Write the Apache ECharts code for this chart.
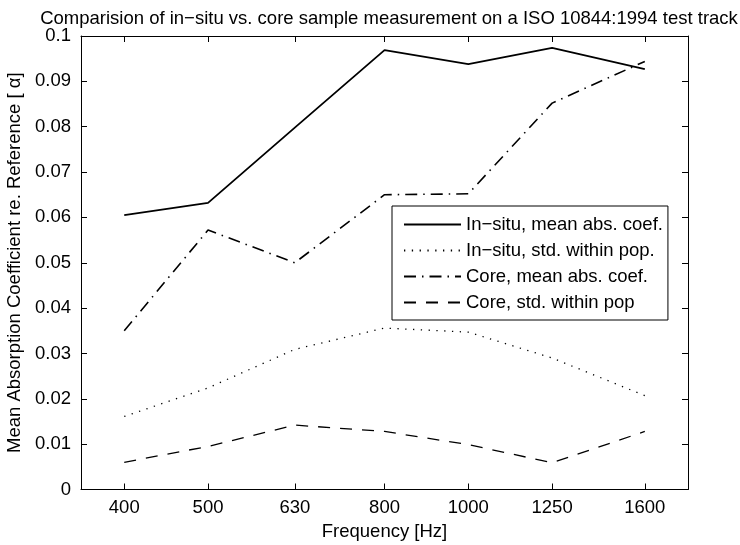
<!DOCTYPE html>
<html>
<head>
<meta charset="utf-8">
<script src="https://cdn.jsdelivr.net/npm/echarts@6/dist/echarts.min.js"></script>
<style>html,body{margin:0;padding:0;background:#fff;}#c{width:740px;height:545px;}</style>
</head>
<body>
<div id="c"></div>
<script>
const frequencies = [400, 500, 630, 800, 1000, 1250, 1600];
const insituMean = [0.0605, 0.0632, 0.0798, 0.0969, 0.0938, 0.0974, 0.0927];
const insituStd  = [0.0161, 0.0224, 0.0309, 0.0356, 0.0347, 0.0290, 0.0207];
const coreMean   = [0.0350, 0.0572, 0.0500, 0.0650, 0.0652, 0.0852, 0.0944];
const coreStd    = [0.0060, 0.0095, 0.0142, 0.0128, 0.0099, 0.0059, 0.0128];
const yTicks = [0, 0.01, 0.02, 0.03, 0.04, 0.05, 0.06, 0.07, 0.08, 0.09, 0.1];

const FONT = '"Liberation Sans", Arial, Helvetica, sans-serif';
const FS = 18.5;
const pairs = arr => frequencies.map((f, i) => [f, arr[i]]);

const chart = echarts.init(document.getElementById('c'), null, {renderer: 'canvas'});
const xBase = {
  type: 'log', logBase: 10, min: 356.5, max: 1795,
  axisLine: {show: true, onZero: false, lineStyle: {color: '#000', width: 1}},
  splitLine: {show: false}, minorTick: {show: false}
};
const yBase = {
  type: 'value', min: 0, max: 0.1, interval: 0.01,
  axisLine: {show: true, onZero: false, lineStyle: {color: '#000', width: 1}},
  splitLine: {show: false}
};
const lineSeries = (name, data, type, width) => ({
  name, type: 'line', data: pairs(data), symbol: 'none', showSymbol: false,
  xAxisIndex: 0, yAxisIndex: 0, animation: false,
  lineStyle: {color: '#000', width: width, type: type, cap: 'butt'},
  itemStyle: {color: '#000'}
});

chart.setOption({
  animation: false,
  backgroundColor: '#fff',
  textStyle: {fontFamily: FONT, color: '#000'},
  title: {
    text: 'Comparision of in\u2212situ vs. core sample measurement on a ISO 10844:1994 test track',
    left: 384, top: 4, textAlign: 'center',
    textStyle: {fontFamily: FONT, fontSize: 18.5, fontWeight: 'normal', color: '#000'}
  },
  grid: {left: 81, right: 52, top: 36, bottom: 55.5, containLabel: false, outerBoundsMode: 'none'},
  legend: {
    orient: 'vertical', left: 392, top: 206,
    padding: [9, 5, 8, 11], itemGap: 7,
    itemWidth: 57, itemHeight: 14,
    backgroundColor: '#fff', borderColor: '#000', borderWidth: 1,
    itemStyle: {opacity: 0},
    textStyle: {fontFamily: FONT, fontSize: FS, color: '#000', lineHeight: 18},
    data: ['In\u2212situ, mean abs. coef.', 'In\u2212situ, std. within pop.', 'Core, mean abs. coef.', 'Core, std. within pop']
  },
  xAxis: [
    Object.assign({}, xBase, {
      position: 'bottom',
      name: 'Frequency [Hz]', nameLocation: 'middle', nameGap: 29,
      nameTextStyle: {fontFamily: FONT, fontSize: FS, color: '#000'},
      axisTick: {show: true, inside: true, length: 6, lineStyle: {color: '#000'}, customValues: frequencies},
      axisLabel: {show: true, margin: 9, fontFamily: FONT, fontSize: FS, color: '#000', customValues: frequencies,
        formatter: v => String(Math.round(v))}
    }),
    Object.assign({}, xBase, {
      position: 'top',
      axisTick: {show: true, inside: true, length: 6, lineStyle: {color: '#000'}, customValues: frequencies},
      axisLabel: {show: false}
    })
  ],
  yAxis: [
    Object.assign({}, yBase, {
      position: 'left',
      name: 'Mean Absorption Coefficient re. Reference [ \u03b1]',
      nameLocation: 'middle', nameGap: 49, nameRotate: 90,
      nameTextStyle: {fontFamily: FONT, fontSize: FS, color: '#000'},
      axisTick: {show: true, inside: true, length: 6, lineStyle: {color: '#000'}},
      axisLabel: {show: true, margin: 10, fontFamily: FONT, fontSize: FS, color: '#000',
        formatter: v => { const t = yTicks.find(k => Math.abs(k - v) < 1e-9); return t === undefined ? '' : String(+t.toFixed(2)); }}
    }),
    Object.assign({}, yBase, {
      position: 'right',
      axisTick: {show: true, inside: true, length: 6, lineStyle: {color: '#000'}},
      axisLabel: {show: false}
    })
  ],
  series: [
    lineSeries('In\u2212situ, mean abs. coef.', insituMean, 'solid', 1.8),
    lineSeries('In\u2212situ, std. within pop.', insituStd, [1.3, 6.5], 1.3),
    lineSeries('Core, mean abs. coef.', coreMean, [12, 6, 1.5, 6], 1.6),
    lineSeries('Core, std. within pop', coreStd, [12, 10], 1.3)
  ]
});
</script>
</body>
</html>
